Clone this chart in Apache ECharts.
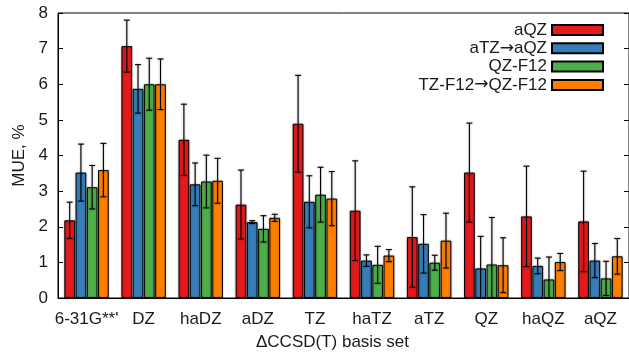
<!DOCTYPE html>
<html>
<head>
<meta charset="utf-8">
<script src="https://cdn.jsdelivr.net/npm/echarts@6/dist/echarts.min.js"></script>
<style>html,body{margin:0;padding:0;background:#fff;}#c{width:629px;height:356px;}</style>
</head>
<body>
<div id="c"></div>
<script>
const categories = ["6-31G**'", "DZ", "haDZ", "aDZ", "TZ", "haTZ", "aTZ", "QZ", "haQZ", "aQZ"];
const seriesNames = ["aQZ", "aTZ\u2192aQZ", "QZ-F12", "TZ-F12\u2192QZ-F12"];
const aQZ      = [2.18, 7.07, 4.44, 2.62, 4.89, 2.45, 1.71, 3.52, 2.29, 2.15];
const aQZErr   = [0.51, 0.73, 1.00, 0.97, 1.36, 1.40, 1.41, 1.39, 1.41, 1.41];
const aTZaQZ   = [3.52, 5.87, 3.19, 2.13, 2.70, 1.05, 1.52, 0.83, 0.90, 1.05];
const aTZaQZErr= [0.80, 0.68, 0.60, 0.04, 0.73, 0.16, 0.82, 0.90, 0.22, 0.48];
const qzF12    = [3.11, 6.00, 3.27, 1.94, 2.90, 0.93, 0.99, 0.94, 0.52, 0.55];
const qzF12Err = [0.61, 0.73, 0.74, 0.37, 0.77, 0.52, 0.21, 1.32, 0.63, 0.48];
const tzqzF12  = [3.59, 6.00, 3.29, 2.25, 2.79, 1.19, 1.61, 0.92, 1.01, 1.17];
const tzqzF12Err=[0.75, 0.71, 0.63, 0.10, 0.76, 0.17, 0.77, 0.77, 0.24, 0.50];
const yTicks = [0, 1, 2, 3, 4, 5, 6, 7, 8];

const values = [aQZ, aTZaQZ, qzF12, tzqzF12];
const errors = [aQZErr, aTZaQZErr, qzF12Err, tzqzF12Err];
const colors = ['#e41a1c', '#377eb8', '#4daf4a', '#ff7f00'];
const BAR_W = 10.7, GAP_FRAC = 0.05;
const FONT = 'Liberation Sans';
const FS = 17;
const TXT = '#1a1a1a';

const series = [];
values.forEach((vals, s) => {
  series.push({
    name: seriesNames[s], type: 'bar', data: vals,
    barWidth: BAR_W, barGap: (GAP_FRAC * 100) + '%',
    itemStyle: { color: colors[s], borderColor: '#000', borderWidth: 1,
      shadowBlur: 2, shadowColor: 'rgba(0,0,0,0.35)' },
    emphasis: { disabled: true }, z: 2
  });
});
values.forEach((vals, s) => {
  series.push({
    name: 'err' + s, type: 'custom', z: 5,
    data: vals.map((v, i) => [i, v, errors[s][i]]),
    encode: { x: 0, y: 1 },
    renderItem: function (params, api) {
      const i = api.value(0), v = api.value(1), e = api.value(2);
      const lo = Math.max(0, v - e);
      const top = api.coord([i, v + e]);
      const bot = api.coord([i, lo]);
      const x = top[0] + (s - 1.5) * BAR_W * (1 + GAP_FRAC);
      const cw = 3;
      const style = { stroke: '#000', lineWidth: 1.1, shadowBlur: 2, shadowColor: 'rgba(0,0,0,0.4)' };
      const children = [
        { type: 'line', shape: { x1: x, y1: top[1], x2: x, y2: bot[1] }, style: style },
        { type: 'line', shape: { x1: x - cw, y1: top[1], x2: x + cw, y2: top[1] }, style: style }
      ];
      if (v - e > 0) children.push({ type: 'line', shape: { x1: x - cw, y1: bot[1], x2: x + cw, y2: bot[1] }, style: style });
      return { type: 'group', children: children };
    },
    silent: true
  });
});

const chart = echarts.init(document.getElementById('c'), null, { renderer: 'canvas' });
chart.setOption({
  animation: false,
  backgroundColor: '#fff',
  textStyle: { fontFamily: FONT },
  grid: { left: 58, top: 13, right: -2, bottom: 57, show: true, borderColor: '#000', borderWidth: 1, backgroundColor: 'transparent' },
  legend: {
    data: seriesNames, orient: 'vertical', align: 'right', right: 20, top: 16,
    itemWidth: 51, itemHeight: 10, itemGap: 0.3, icon: 'rect',
    formatter: function (n) { return n.split('\u2192').join('{a|\u2192}'); },
    textStyle: { fontFamily: FONT, fontSize: FS, color: TXT, lineHeight: 18,
      rich: { a: { fontFamily: 'DejaVu Sans', fontSize: FS, color: TXT, lineHeight: 18 } } },
    selectedMode: false
  },
  xAxis: {
    type: 'category', data: categories,
    axisLine: { lineStyle: { color: '#000', width: 1 } },
    axisTick: { show: false },
    axisLabel: { fontFamily: FONT, fontSize: FS, color: TXT, margin: 13, interval: 0 },
    name: '\u0394CCSD(T) basis set', nameLocation: 'middle', nameGap: 36,
    nameTextStyle: { fontFamily: FONT, fontSize: FS, color: TXT, padding: [0, 22, 0, 0] }
  },
  yAxis: [{
    type: 'value', min: yTicks[0], max: yTicks[yTicks.length - 1], interval: 1,
    axisLine: { show: true, lineStyle: { color: '#000', width: 1 } },
    axisTick: { show: true, inside: true, length: 5, lineStyle: { color: '#000' } },
    axisLabel: { fontFamily: FONT, fontSize: FS, color: TXT, margin: 10 },
    splitLine: { show: false },
    name: 'MUE, %', nameLocation: 'middle', nameGap: 28,
    nameTextStyle: { fontFamily: FONT, fontSize: FS, color: TXT }
  }, {
    type: 'value', position: 'right', min: yTicks[0], max: yTicks[yTicks.length - 1], interval: 1,
    axisLine: { show: true, lineStyle: { color: '#000' } },
    axisTick: { show: true, inside: true, length: 5, lineStyle: { color: '#000' } },
    axisLabel: { show: false }, splitLine: { show: false }
  }],
  series: series
});
</script>
</body>
</html>
